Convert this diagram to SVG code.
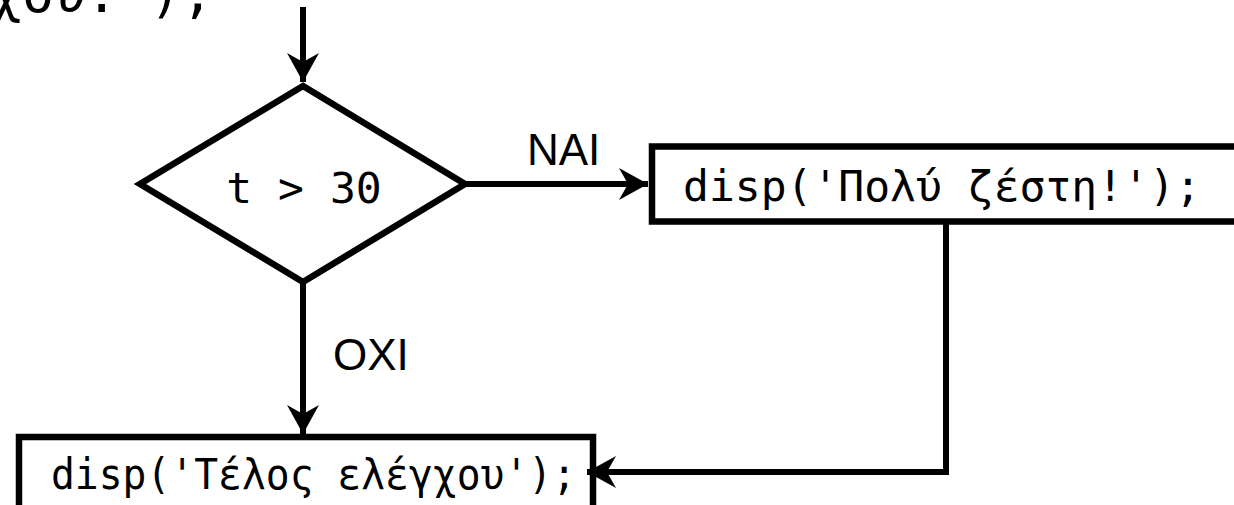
<svg xmlns="http://www.w3.org/2000/svg" width="1234" height="505" viewBox="0 0 1234 505">
<style>
.shape{fill:#fff;stroke:#000;stroke-width:6.5;stroke-linejoin:miter}
.edge{fill:none;stroke:#000;stroke-width:6}
.code{font-family:"DejaVu Sans Mono","Liberation Mono",monospace;font-size:43px;fill:#000}
.lbl{font-family:"Liberation Sans",Arial,sans-serif;font-size:44px;fill:#000}
</style>
<defs>
<marker id="arr" markerUnits="userSpaceOnUse" markerWidth="32" markerHeight="36" viewBox="-30 -18 32 36" refX="0" refY="0" orient="auto">
<path d="M0,0 L-29,-16 L-20,0 L-29,16 Z" fill="#000"/>
</marker>
</defs>
<g id="prev">
<text class="code" x="-10" y="12" style="font-size:53px">χου:');</text>
</g>
<g id="decision">
<polygon class="shape" points="303,86 465,184 303,282 140,184"/>
<text class="code" x="304" y="203" text-anchor="middle">t &gt; 30</text>
</g>
<g id="hot">
<rect class="shape" x="652" y="146.5" width="600" height="75"/>
<text class="code" x="683" y="201">disp('Πολύ ζέστη!');</text>
</g>
<g id="end">
<rect class="shape" x="19" y="437" width="574" height="100"/>
<text class="code" x="51" y="489" textLength="525" lengthAdjust="spacingAndGlyphs">disp('Τέλος ελέγχου');</text>
</g>
<g id="connectors">
<line class="edge" x1="303" y1="7" x2="303" y2="82" marker-end="url(#arr)"/>
<line class="edge" x1="465" y1="184" x2="648" y2="184" marker-end="url(#arr)"/>
<line class="edge" x1="303" y1="282" x2="303" y2="434" marker-end="url(#arr)"/>
<polyline class="edge" points="946,222 946,472 587,472" marker-end="url(#arr)"/>
<text class="lbl" x="527" y="165">NAI</text>
<text class="lbl" x="333" y="370">OXI</text>
</g>
</svg>
